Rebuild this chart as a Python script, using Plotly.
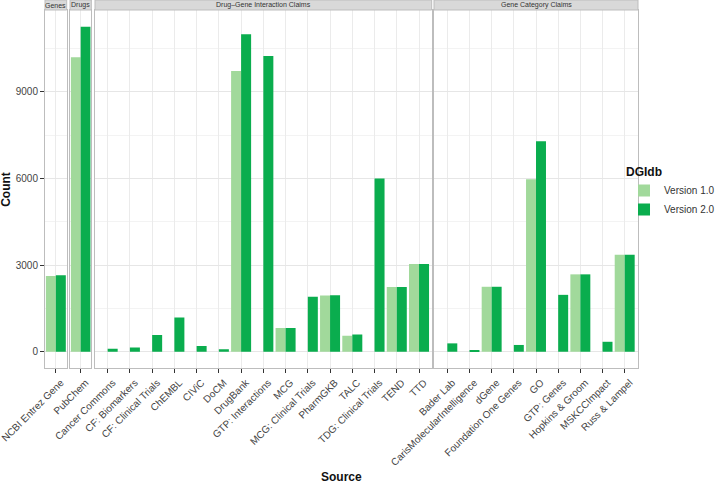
import plotly.graph_objects as go

# ── Data ─────────────────────────────────────────────
genes_src = ["NCBI Entrez Gene"]
genes_v1 = [2620]
genes_v2 = [2645]

drugs_src = ["PubChem"]
drugs_v1 = [10200]
drugs_v2 = [11250]

dgi_src = ["Cancer Commons", "CF: Biomarkers", "CF: Clinical Trials", "ChEMBL", "CIViC",
           "DoCM", "DrugBank", "GTP: Interactions", "MCG", "MCG: Clinical Trials",
           "PharmGKB", "TALC", "TDG: Clinical Trials", "TEND", "TTD"]
dgi_v1 = [None, None, None, None, None, None, 9720, None, 820, None, 1950, 555, None, 2240, 3035]
dgi_v2 = [105, 150, 580, 1190, 200, 85, 10990, 10240, 820, 1905, 1955, 600, 6000, 2240, 3035]

gcc_src = ["Bader Lab", "CarisMolecularIntelligence", "dGene", "Foundation One Genes", "GO",
           "GTP: Genes", "Hopkins & Groom", "MSKCCImpact", "Russ & Lampel"]
gcc_v1 = [None, None, 2250, None, 5975, None, 2680, None, 3355]
gcc_v2 = [290, 60, 2250, 235, 7290, 1970, 2680, 345, 3355]

panel_titles = ["Genes", "Drugs", "Drug\u2013Gene Interaction Claims", "Gene Category Claims"]
y_ticks = [0, 3000, 6000, 9000]

C1 = "#A1D99B"
C2 = "#0AAD4E"
FONT = "Liberation Sans, Arial, sans-serif"

panels = [
    (genes_src, genes_v1, genes_v2, [0.0, 0.0366], [-0.49, 0.49]),
    (drugs_src, drugs_v1, drugs_v2, [0.0422, 0.0781], [-0.49, 0.49]),
    (dgi_src, dgi_v1, dgi_v2, [0.0843, 0.6521], [-0.57, 14.57]),
    (gcc_src, gcc_v1, gcc_v2, [0.656, 1.0], [-0.6, 8.6]),
]

fig = go.Figure()
yrange = [-563, 11834]
strip_h = 10 / 358

for i, (src, v1, v2, dom, xr) in enumerate(panels):
    n = "" if i == 0 else str(i + 1)
    fig.add_trace(go.Bar(x=src, y=v1, name="Version 1.0", marker_color=C1,
                         marker_line_width=0, showlegend=(i == 0),
                         legendgroup="v1", xaxis="x" + n, yaxis="y" + n))
    fig.add_trace(go.Bar(x=src, y=v2, name="Version 2.0", marker_color=C2,
                         marker_line_width=0, showlegend=(i == 0),
                         legendgroup="v2", xaxis="x" + n, yaxis="y" + n))

    fig.layout["xaxis" + n] = dict(
        domain=dom, anchor="y" + n, type="category", range=xr,
        tickangle=-45, ticks="outside", ticklen=4, tickcolor="#333333",
        tickfont=dict(size=10, color="#444444"), automargin=False,
        ticklabelshift=5,
        showgrid=True, gridcolor="#EBEBEB", gridwidth=1,
        showline=True, mirror=True, linecolor="#BDBDBD", linewidth=1,
        zeroline=False, fixedrange=True)
    fig.layout["yaxis" + n] = dict(
        domain=[0, 1], anchor="x" + n, range=yrange,
        tickvals=y_ticks, showticklabels=(i == 0), automargin=False,
        ticks="outside" if i == 0 else "", ticklen=4, tickcolor="#333333",
        tickfont=dict(size=10, color="#444444"),
        showgrid=True, gridcolor="#E6E6E6", gridwidth=1,
        minor=dict(tickvals=[1500, 4500, 7500, 10500], showgrid=True,
                   gridcolor="#F3F3F3", gridwidth=1),
        showline=True, mirror=True, linecolor="#BDBDBD", linewidth=1,
        zeroline=False)

    # facet strip
    fig.add_shape(type="rect", xref=f"x{n} domain", yref="paper",
                  x0=0, x1=1, y0=1, y1=1 + strip_h,
                  fillcolor="#D9D9D9", line=dict(color="#BDBDBD", width=1))
    fig.add_annotation(text=panel_titles[i], xref=f"x{n} domain", yref="paper",
                       x=0.5, y=1 + strip_h / 2, showarrow=False,
                       font=dict(size=7, color="#333333"), yanchor="middle")

fig.add_annotation(text="<b>Source</b>", xref="paper", yref="paper",
                   x=0.5, y=-0.3045, yanchor="middle", showarrow=False,
                   font=dict(size=12, color="#111111"))
fig.add_annotation(text="<b>Count</b>", xref="paper", yref="paper",
                   x=-0.066, y=0.5, xanchor="center", yanchor="middle",
                   textangle=-90, showarrow=False,
                   font=dict(size=12, color="#111111"))

fig.update_layout(
    width=717, height=487,
    margin=dict(l=45, r=79, t=10, b=119, autoexpand=False),
    paper_bgcolor="white", plot_bgcolor="white",
    font=dict(family=FONT),
    barmode="group", bargap=0.1, bargroupgap=0,
    legend=dict(title=dict(text="<b>DGIdb</b>", font=dict(size=12, color="#111111")),
                x=0.9764, xanchor="left", y=0.58, yanchor="top",
                font=dict(size=10, color="#333333"), tracegroupgap=0,
                itemwidth=30, bgcolor="rgba(0,0,0,0)"),
)

# drop the default page margin so the figure sits at the window's corner
fig.write_html("out.html", config={"displayModeBar": False},
               post_script="document.body.style.margin='0';")
